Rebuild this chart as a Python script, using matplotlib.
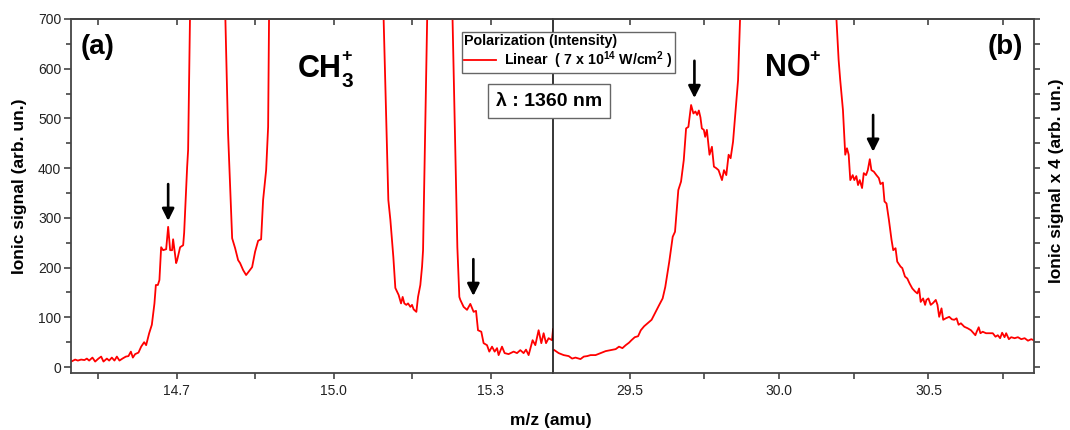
import matplotlib
matplotlib.use('Agg')
import matplotlib.pyplot as plt
from matplotlib.ticker import FixedLocator, MultipleLocator

plt.rcParams['font.family'] = ['Liberation Sans', 'DejaVu Sans']
plt.rcParams['mathtext.fontset'] = 'custom'
plt.rcParams['mathtext.rm'] = 'Liberation Sans'
plt.rcParams['mathtext.bf'] = 'Liberation Sans:bold'

# CH3+ region (left panel). Peak tops are off scale, so the trace is split
# into the visible stretches between them.
ch3_mz_a = [14.498, 14.5056, 14.5107, 14.5170, 14.5233, 14.5279, 14.5323, 14.5386, 14.5438, 14.5501,
            14.5553, 14.5597, 14.5662, 14.5706, 14.5757, 14.5807, 14.5853, 14.5903, 14.5960, 14.6025,
            14.6075, 14.6121, 14.6159, 14.6203, 14.6266, 14.6318, 14.6375, 14.6413, 14.6471, 14.6522,
            14.6572, 14.6599, 14.6637, 14.6667, 14.6700, 14.6738, 14.6796, 14.6834, 14.6872, 14.6910,
            14.6929, 14.6987, 14.7006, 14.7063, 14.7121, 14.7140, 14.7197, 14.7216, 14.7254]
ch3_sig_a = [11, 15, 13, 15, 14, 17, 13, 19, 11, 17,
             21, 11, 17, 13, 19, 13, 21, 13, 17, 21,
             22, 31, 19, 26, 29, 41, 50, 44, 68, 85,
             128, 165, 165, 175, 241, 235, 237, 282, 235, 235,
             257, 209, 215, 241, 245, 270, 402, 437, 720]

ch3_mz_b = [14.7924, 14.7980, 14.8058, 14.8115, 14.8172, 14.8210, 14.8268, 14.8325, 14.8383,
            14.8440, 14.8497, 14.8555, 14.8612, 14.8650, 14.8708, 14.8746, 14.8765]
ch3_sig_b = [720, 470, 259, 239, 215, 209, 195, 185, 193,
             201, 232, 254, 257, 336, 396, 483, 720]

ch3_mz_c = [15.0950, 15.1045, 15.1084, 15.1141, 15.1179, 15.1242, 15.1288, 15.1319, 15.1351, 15.1389,
            15.1422, 15.1466, 15.1498, 15.1529, 15.1581, 15.1613, 15.1657, 15.1690, 15.1709, 15.1791]
ch3_sig_c = [720, 336, 296, 221, 159, 145, 128, 141, 128, 125,
             128, 121, 125, 116, 111, 141, 165, 202, 235, 720]

ch3_mz_d = [15.2269, 15.2365, 15.2403, 15.2422, 15.2485, 15.2550, 15.2613, 15.2676, 15.2722, 15.2760,
            15.2823, 15.2867, 15.2932, 15.2976, 15.3028, 15.3078, 15.3124, 15.3154, 15.3219, 15.3269,
            15.3345, 15.3441, 15.3506, 15.3569, 15.3632, 15.3678, 15.3728, 15.3804, 15.3856, 15.3919,
            15.3971, 15.4015, 15.4061, 15.4110, 15.4175, 15.4195]
ch3_sig_d = [720, 241, 141, 135, 121, 115, 127, 111, 113, 74,
             71, 48, 44, 31, 41, 31, 38, 24, 41, 28,
             26, 31, 28, 34, 28, 35, 24, 54, 44, 74,
             48, 68, 48, 58, 54, 76]

# NO+ region (right panel), signal x 4
no_mz_a = [29.2475, 29.2620, 29.2788, 29.2956, 29.3071, 29.3182, 29.3350, 29.3461, 29.3576, 29.3687,
           29.3855, 29.4024, 29.4192, 29.4360, 29.4529, 29.4640, 29.4754, 29.4865, 29.4976, 29.5057,
           29.5168, 29.5279, 29.5370, 29.5481, 29.5616, 29.5731, 29.5842, 29.5987, 29.6101, 29.6189,
           29.6323, 29.6438, 29.6515, 29.6626, 29.6717, 29.6808, 29.6886, 29.6963, 29.7054, 29.7131,
           29.7199, 29.7256, 29.7313, 29.7367, 29.7414, 29.7481, 29.7525, 29.7582, 29.7670, 29.7751,
           29.7818, 29.7896, 29.7973, 29.8088, 29.8155, 29.8232, 29.8310, 29.8377, 29.8458, 29.8535,
           29.8626, 29.8704]
no_sig_a = [34, 28, 24, 22, 17, 19, 16, 21, 22, 24,
            24, 28, 32, 34, 36, 41, 38, 44, 49, 54,
            60, 62, 74, 82, 89, 95, 108, 125, 138, 161,
            212, 262, 272, 356, 373, 416, 480, 483, 527, 510,
            514, 507, 516, 502, 480, 477, 463, 477, 427, 443,
            403, 400, 396, 376, 396, 386, 427, 420, 453, 510,
            577, 720]

no_mz_b = [30.1902, 30.1993, 30.2047, 30.2138, 30.2215, 30.2273, 30.2330, 30.2384, 30.2465, 30.2519,
           30.2586, 30.2643, 30.2700, 30.2778, 30.2835, 30.2912, 30.2970, 30.3037, 30.3091, 30.3172,
           30.3259, 30.3340, 30.3394, 30.3475, 30.3529, 30.3596, 30.3677, 30.3764, 30.3822, 30.3899,
           30.3956, 30.4067, 30.4125, 30.4215, 30.4293, 30.4370, 30.4461, 30.4552,
           30.4630, 30.4687, 30.4741, 30.4822, 30.4889, 30.4933, 30.5000, 30.5077, 30.5158, 30.5246,
           30.5303, 30.5360, 30.5438, 30.5495, 30.5582, 30.5697, 30.5785, 30.5865, 30.5943, 30.6010,
           30.6088, 30.6202, 30.6313, 30.6424, 30.6572, 30.6616, 30.6684, 30.6741, 30.6818, 30.6929,
           30.7064, 30.7155, 30.7246, 30.7323, 30.7401, 30.7468, 30.7549, 30.7603, 30.7694, 30.7771,
           30.7886, 30.7997, 30.8108, 30.8222, 30.8333, 30.8445, 30.8520]
no_sig_b = [720, 618, 577, 517, 427, 440, 427, 376, 386, 376,
            384, 366, 376, 360, 390, 386, 396, 418, 396, 393,
            386, 380, 368, 371, 333, 329, 296, 256, 235, 239,
            212, 202, 199, 182, 178, 168, 158, 152,
            148, 158, 131, 138, 125, 135, 138, 125, 129, 135,
            125, 101, 118, 95, 98, 101, 96, 95, 98, 85,
            88, 81, 78, 74, 64, 71, 80, 68, 71, 68,
            68, 68, 61, 64, 58, 69, 60, 68, 56, 60,
            58, 60, 56, 58, 53, 56, 54]

left_ticks = [14.7, 15.0, 15.3]
left_minor = [14.55, 14.85, 15.15]
right_ticks = [29.5, 30.0, 30.5]
right_minor = [29.75, 30.25, 30.75]

# arrows: (m/z, start, tip)
left_arrows = [(14.6834, 368, 294), (15.2671, 217, 143)]
right_arrows = [(29.7165, 616, 541), (30.3148, 507, 433)]

W, H = 1070, 430
fig = plt.figure(figsize=(W / 100, H / 100), dpi=100)


def fx(x):
    return x / W


def fy(y):
    return 1 - y / H


bot, top = fy(373), fy(19)
ax1 = fig.add_axes([fx(71), bot, fx(553.3) - fx(71), top - bot])
ax2 = fig.add_axes([fx(553.3), bot, fx(1034) - fx(553.3), top - bot])

red = '#ff0000'
lw = 1.3
for mz, sig in [(ch3_mz_a, ch3_sig_a), (ch3_mz_b, ch3_sig_b), (ch3_mz_c, ch3_sig_c), (ch3_mz_d, ch3_sig_d)]:
    line, = ax1.plot(mz, sig, color=red, lw=lw)
for mz, sig in [(no_mz_a, no_sig_a), (no_mz_b, no_sig_b)]:
    ax2.plot(mz, sig, color=red, lw=lw)

ax1.set_xlim(14.4976, 15.420)
ax2.set_xlim(29.244, 30.8535)
for ax in (ax1, ax2):
    ax.set_ylim(-12, 700)

spine_c = '#444444'
for ax in (ax1, ax2):
    for s in ax.spines.values():
        s.set_color(spine_c)
        s.set_linewidth(1.3)
# the break between the two ranges is a thin black line
ax1.spines['right'].set_visible(False)
ax2.spines['left'].set_color('black')
ax2.spines['left'].set_linewidth(1.1)

ax1.set_xticks(left_ticks)
ax1.set_xticklabels(['14.7', '15.0', '15.3'])
ax1.xaxis.set_minor_locator(FixedLocator(left_minor))
ax2.set_xticks(right_ticks)
ax2.set_xticklabels(['29.5', '30.0', '30.5'])
ax2.xaxis.set_minor_locator(FixedLocator(right_minor))

for ax in (ax1, ax2):
    ax.tick_params(axis='x', which='both', direction='out', colors=spine_c,
                   labelcolor='#222222', labelsize=10, pad=4, length=4, width=1.2)

ax1.yaxis.set_major_locator(MultipleLocator(100))
ax1.yaxis.set_minor_locator(MultipleLocator(50))
ax1.tick_params(axis='y', which='both', direction='out', colors=spine_c,
                labelcolor='#222222', labelsize=10, pad=2, width=1.2)
ax1.tick_params(axis='y', which='major', length=5)
ax1.tick_params(axis='y', which='minor', length=3.5)

ax2.yaxis.tick_right()
ax2.yaxis.set_major_locator(MultipleLocator(50))
ax2.tick_params(axis='y', which='both', direction='out', colors=spine_c,
                labelright=False, length=4, width=1.2)

# top axis: inward ticks, no labels
for ax, maj, mnr in [(ax1, left_ticks, left_minor), (ax2, right_ticks, right_minor)]:
    sec = ax.secondary_xaxis('top')
    sec.set_xticks(maj)
    sec.xaxis.set_minor_locator(FixedLocator(mnr))
    sec.tick_params(axis='x', which='both', direction='in', length=4, width=1.2,
                    colors=spine_c, labeltop=False)
    sec.spines['top'].set_color(spine_c)
    sec.spines['top'].set_linewidth(1.3)

arrow_kw = dict(arrowstyle='-|>', color='black', lw=1.9, mutation_scale=18, shrinkA=0, shrinkB=0)
for x, y0, y1 in left_arrows:
    ax1.annotate('', xy=(x, y1), xytext=(x, y0), arrowprops=arrow_kw)
for x, y0, y1 in right_arrows:
    ax2.annotate('', xy=(x, y1), xytext=(x, y0), arrowprops=arrow_kw)

# labels and annotations
fig.text(fx(20), fy(186), 'Ionic signal (arb. un.)', rotation=90, ha='center', va='center',
         fontsize=12.5, fontweight='bold')
fig.text(fx(1057), fy(181), 'Ionic signal x 4 (arb. un.)', rotation=90, ha='center', va='center',
         fontsize=12.5, fontweight='bold')
fig.text(fx(551), fy(420), 'm/z (amu)', ha='center', va='center', fontsize=12.5, fontweight='bold')

fig.text(fx(98), fy(47), '(a)', ha='center', va='center', fontsize=20, fontweight='bold')
fig.text(fx(1005), fy(47), '(b)', ha='center', va='center', fontsize=20, fontweight='bold')

fig.text(fx(298), fy(77), 'CH', ha='left', va='baseline', fontsize=22, fontweight='bold')
fig.text(fx(341), fy(87), '3', ha='left', va='baseline', fontsize=15, fontweight='bold')
fig.text(fx(347), fy(56), '+', ha='center', va='center', fontsize=13, fontweight='bold')
fig.text(fx(765), fy(76), 'NO', ha='left', va='baseline', fontsize=22, fontweight='bold')
fig.text(fx(815), fy(56), '+', ha='center', va='center', fontsize=13, fontweight='bold')

fig.text(fx(549), fy(101), 'λ : 1360 nm', ha='center', va='center', fontsize=14, fontweight='bold',
         zorder=10, bbox=dict(boxstyle='square,pad=0.42', fc='white', ec='#666666', lw=1.0))

leg = fig.legend([line], [r'Linear  ( 7 x 10$^{\mathbf{14}}$ W/cm$^{\mathbf{2}}$ )'],
                 title='Polarization (Intensity)', loc='upper left',
                 bbox_to_anchor=(fx(462), fy(32)), fancybox=False, framealpha=1,
                 edgecolor='#666666', prop=dict(weight='bold', size=10.3),
                 title_fontproperties=dict(weight='bold', size=10.3), alignment='left',
                 borderpad=0.15, handlelength=2.2, handletextpad=0.6, borderaxespad=0,
                 labelspacing=0.1)
leg.get_frame().set_linewidth(1.0)

fig.savefig('out.png', dpi=100)
